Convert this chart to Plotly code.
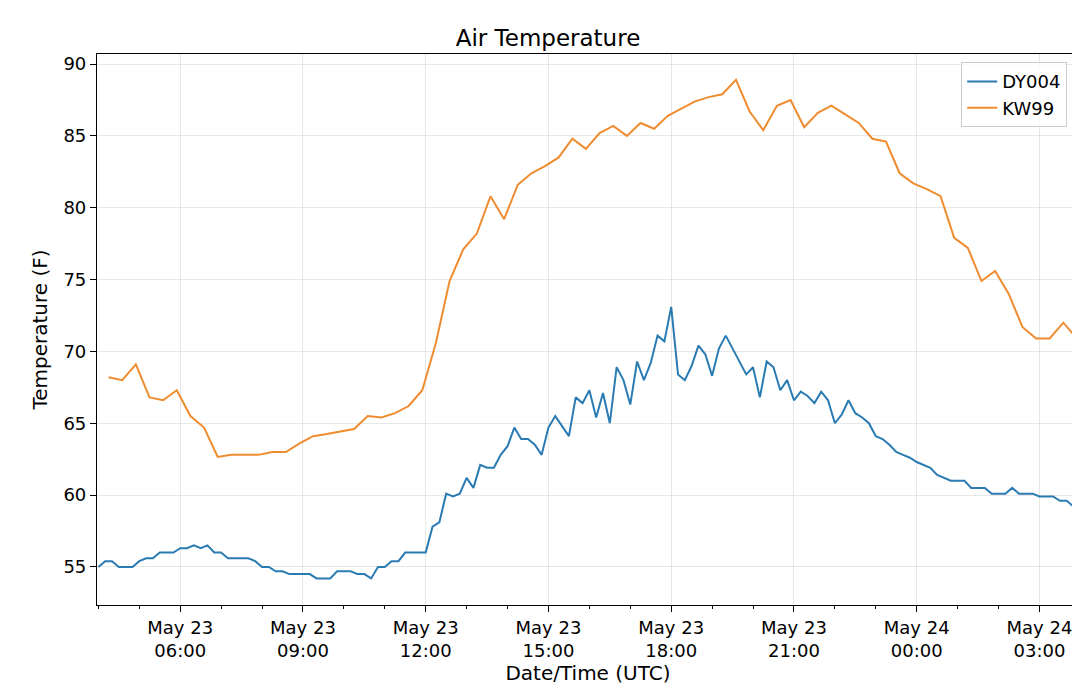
import pandas as pd
import plotly.graph_objects as go

# DY004: 10-minute readings from 04:00 UTC May 23
dy004_temp = [
    55.0, 55.4, 55.4, 55.0, 55.0, 55.0, 55.4, 55.6, 55.6, 56.0,
    56.0, 56.0, 56.3, 56.3, 56.5, 56.3, 56.5, 56.0, 56.0, 55.6,
    55.6, 55.6, 55.6, 55.4, 55.0, 55.0, 54.7, 54.7, 54.5, 54.5,
    54.5, 54.5, 54.2, 54.2, 54.2, 54.7, 54.7, 54.7, 54.5, 54.5,
    54.2, 55.0, 55.0, 55.4, 55.4, 56.0, 56.0, 56.0, 56.0,
    57.8, 58.1, 60.1, 59.9, 60.1, 61.2, 60.5, 62.1, 61.9, 61.9,
    62.8, 63.4, 64.7, 63.9, 63.9, 63.5, 62.8, 64.7, 65.5, 64.8,
    64.1, 66.8, 66.4, 67.3, 65.4, 67.1, 65.0, 68.9, 68.0, 66.3,
    69.3, 68.0, 69.2, 71.1, 70.7, 73.1, 68.4, 68.0, 69.0, 70.4,
    69.8, 68.3, 70.2, 71.1, 70.2, 69.4, 68.4, 68.9, 66.8,
    69.3, 68.9, 67.3, 68.0, 66.6, 67.2, 66.9, 66.4, 67.2, 66.6,
    65.0, 65.6, 66.6, 65.7, 65.4, 65.0, 64.1, 63.9, 63.5, 63.0,
    62.8, 62.6, 62.3, 62.1, 61.9, 61.4, 61.2, 61.0, 61.0, 61.0,
    60.5, 60.5, 60.5, 60.1, 60.1, 60.1, 60.5, 60.1, 60.1, 60.1,
    59.9, 59.9, 59.9, 59.6, 59.6, 59.2,
]
# KW99: 20-minute readings from 04:15 UTC May 23
kw99_temp = [
    68.2, 68.0, 69.1, 66.8, 66.6, 67.3, 65.5, 64.7, 62.65, 62.8,
    62.8, 62.8, 63.0, 63.0, 63.6, 64.1, 64.25, 64.4, 64.6, 65.5,
    65.4, 65.7, 66.2, 67.3,
    70.6, 74.9, 77.1, 78.2, 80.8, 79.2, 81.6, 82.4, 82.9, 83.5,
    84.8, 84.1, 85.2, 85.7, 85.0, 85.9, 85.5, 86.4, 86.9, 87.4,
    87.7, 87.9, 88.9, 86.7, 85.4,
    87.1, 87.5, 85.6, 86.6, 87.1, 86.5, 85.9, 84.8, 84.6, 82.4,
    81.7, 81.3, 80.8, 77.9, 77.2, 74.9, 75.6, 74.0, 71.7, 70.9,
    70.9, 72.0, 70.9,
]
dy004_time = pd.date_range("2019-05-23 04:00", periods=len(dy004_temp), freq="10min")
kw99_time = pd.date_range("2019-05-23 04:15", periods=len(kw99_temp), freq="20min")

tick_vals = pd.date_range("2019-05-23 06:00", "2019-05-24 03:00", freq="3h")
tick_text = [t.strftime("%b %d<br>%H:%M") for t in tick_vals]

fig = go.Figure()
fig.add_trace(go.Scatter(x=dy004_time, y=dy004_temp, mode="lines", name="DY004",
                         line=dict(color="#2b7bb3", width=2)))
fig.add_trace(go.Scatter(x=kw99_time, y=kw99_temp, mode="lines", name="KW99",
                         line=dict(color="#f08c30", width=2)))

axis_common = dict(showline=True, linecolor="black", linewidth=1.2, mirror=True,
                   ticks="outside", ticklen=6, tickcolor="black", automargin=False,
                   gridcolor="rgba(0,0,0,0.09)", zeroline=False,
                   tickfont=dict(size=18, color="black"))
fig.update_layout(
    width=1080, height=691,
    margin=dict(l=89, r=9, t=46, b=94),
    paper_bgcolor="white", plot_bgcolor="white",
    font=dict(family="DejaVu Sans", color="black"),
    title=dict(text="Air Temperature", x=0.5, xanchor="center",
               yref="container", y=0.957, yanchor="middle",
               font=dict(size=23)),
    xaxis=dict(axis_common, range=["2019-05-23 03:58", "2019-05-24 03:58"],
               tickvals=tick_vals, ticktext=tick_text,
               minor=dict(dtick=3600000, ticks="outside", ticklen=3, tickcolor="black",
                          showgrid=False),
               title=dict(text="Date/Time (UTC)", font=dict(size=20), standoff=4)),
    yaxis=dict(axis_common, range=[52.35, 90.7], tickvals=list(range(55, 91, 5)),
               title=dict(text="Temperature (F)", font=dict(size=20), standoff=10)),
    legend=dict(x=0.988, y=0.985, xanchor="right", yanchor="top",
                bordercolor="#cccccc", borderwidth=1, bgcolor="rgba(255,255,255,0.8)",
                font=dict(size=18)),
)

fig.write_html("out.html")
